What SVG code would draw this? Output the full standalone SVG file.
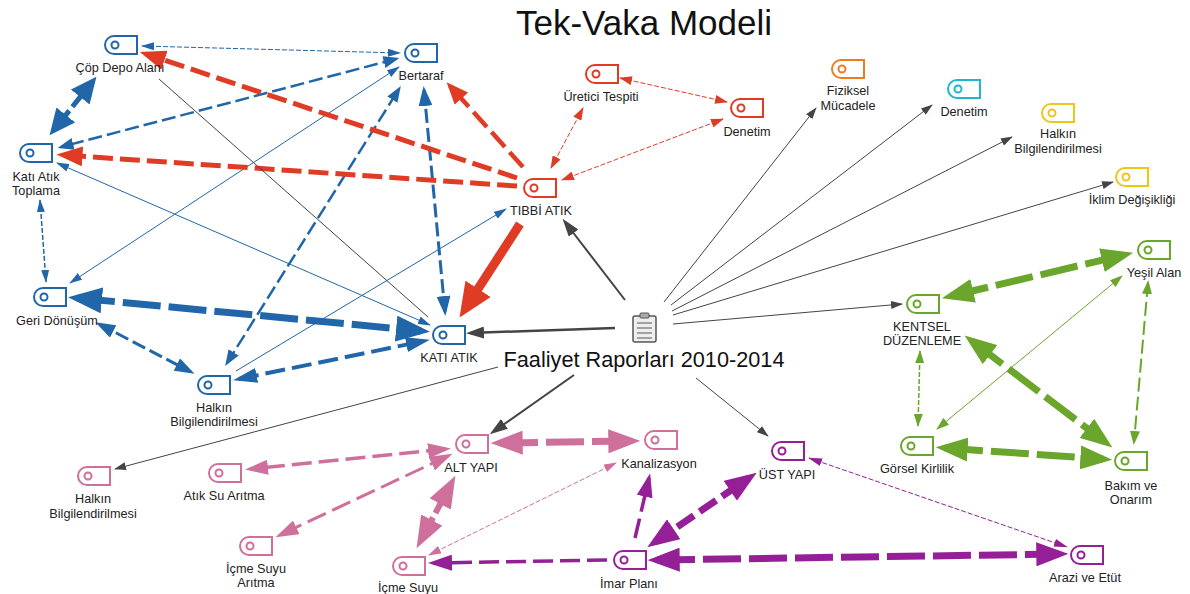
<svg xmlns="http://www.w3.org/2000/svg" width="1190" height="594" viewBox="0 0 1190 594">
<style>
text{font-family:"Liberation Sans",Arial,sans-serif;font-size:12.7px;fill:#222;text-anchor:middle}
.title{font-size:35px;fill:#111}
.sub{font-size:21.7px;fill:#111}
.tag{fill:none;stroke-width:2}
.b{stroke:#2066a8}.r{stroke:#e03c25}.g{stroke:#6aa62b}.p{stroke:#cf6f9c}.v{stroke:#951f96}.d{stroke:#444}.o{stroke:#ee7d22}.c{stroke:#1fb6cf}.y{stroke:#f0c419}
#connectors line{fill:none}
.t{stroke-width:1}.t2{stroke-width:1.5}
.s1{stroke-dasharray:5 2}.s2{stroke-dasharray:14 5}.s3{stroke-dasharray:20 7}.s4{stroke-dasharray:38 8}
.bm{fill:#2066a8}.rm{fill:#e03c25}.gm{fill:#6aa62b}.pm{fill:#cf6f9c}.vm{fill:#951f96}.dm{fill:#444}
</style>
<defs>
<path id="tag" d="M9 0H32V18H9A9 9 0 0 1 9 0Z"/>
<marker id="bS" class="bm" markerUnits="userSpaceOnUse" markerWidth="13" markerHeight="8" refX="12" refY="4" orient="auto-start-reverse"><path d="M0 0L13 4L0 8Z"/></marker>
<marker id="rS" class="rm" markerUnits="userSpaceOnUse" markerWidth="13" markerHeight="9" refX="12" refY="4.5" orient="auto-start-reverse"><path d="M0 0L13 4.5L0 9Z"/></marker>
<marker id="gS" class="gm" markerUnits="userSpaceOnUse" markerWidth="13" markerHeight="9" refX="12" refY="4.5" orient="auto-start-reverse"><path d="M0 0L13 4.5L0 9Z"/></marker>
<marker id="pS" class="pm" markerUnits="userSpaceOnUse" markerWidth="13" markerHeight="8" refX="12" refY="4" orient="auto-start-reverse"><path d="M0 0L13 4L0 8Z"/></marker>
<marker id="vS" class="vm" markerUnits="userSpaceOnUse" markerWidth="14" markerHeight="8" refX="13" refY="4" orient="auto-start-reverse"><path d="M0 0L14 4L0 8Z"/></marker>
<marker id="dS" class="dm" markerUnits="userSpaceOnUse" markerWidth="12" markerHeight="8" refX="11" refY="4" orient="auto-start-reverse"><path d="M0 0L12 4L0 8Z"/></marker>
<marker id="bM" class="bm" markerUnits="userSpaceOnUse" markerWidth="16" markerHeight="12" refX="12.5" refY="6" orient="auto-start-reverse"><path d="M0 0L16 6L0 12Z"/></marker>
<marker id="gM" class="gm" markerUnits="userSpaceOnUse" markerWidth="14" markerHeight="10" refX="11" refY="5" orient="auto-start-reverse"><path d="M0 0L14 5L0 10Z"/></marker>
<marker id="dM" class="dm" markerUnits="userSpaceOnUse" markerWidth="18" markerHeight="12" refX="14" refY="6" orient="auto-start-reverse"><path d="M0 0L18 6L0 12Z"/></marker>
<marker id="bL" class="bm" markerUnits="userSpaceOnUse" markerWidth="20" markerHeight="14" refX="16" refY="7" orient="auto-start-reverse"><path d="M0 0L20 7L0 14Z"/></marker>
<marker id="bK" class="bm" markerUnits="userSpaceOnUse" markerWidth="24" markerHeight="15" refX="18" refY="7.5" orient="auto-start-reverse"><path d="M0 0L24 7.5L0 15Z"/></marker>
<marker id="rL" class="rm" markerUnits="userSpaceOnUse" markerWidth="22" markerHeight="18" refX="17" refY="9" orient="auto-start-reverse"><path d="M0 0L22 9L0 18Z"/></marker>
<marker id="pL" class="pm" markerUnits="userSpaceOnUse" markerWidth="23" markerHeight="15" refX="18" refY="7.5" orient="auto-start-reverse"><path d="M0 0L23 7.5L0 15Z"/></marker>
<marker id="vL" class="vm" markerUnits="userSpaceOnUse" markerWidth="24" markerHeight="16" refX="19" refY="8" orient="auto-start-reverse"><path d="M0 0L24 8L0 16Z"/></marker>
<marker id="bX" class="bm" markerUnits="userSpaceOnUse" markerWidth="26" markerHeight="24" refX="20.5" refY="12" orient="auto-start-reverse"><path d="M0 0L26 12L0 24Z"/></marker>
<marker id="rX" class="rm" markerUnits="userSpaceOnUse" markerWidth="26" markerHeight="20" refX="19.5" refY="10" orient="auto-start-reverse"><path d="M0 0L26 10L0 20Z"/></marker>
<marker id="gX" class="gm" markerUnits="userSpaceOnUse" markerWidth="32" markerHeight="24" refX="22.7" refY="12" orient="auto-start-reverse"><path d="M0 0L32 12L0 24Z"/></marker>
<marker id="pX" class="pm" markerUnits="userSpaceOnUse" markerWidth="32" markerHeight="24" refX="22.7" refY="12" orient="auto-start-reverse"><path d="M0 0L32 12L0 24Z"/></marker>
<marker id="vX" class="vm" markerUnits="userSpaceOnUse" markerWidth="32" markerHeight="24" refX="22.7" refY="12" orient="auto-start-reverse"><path d="M0 0L32 12L0 24Z"/></marker>
<marker id="bZ" class="bm" markerUnits="userSpaceOnUse" markerWidth="34" markerHeight="26" refX="25" refY="13" orient="auto-start-reverse"><path d="M0 0L34 13L0 26Z"/></marker>
<marker id="rZ" class="rm" markerUnits="userSpaceOnUse" markerWidth="34" markerHeight="30" refX="24" refY="15" orient="auto-start-reverse"><path d="M0 0L34 15L0 30Z"/></marker>
</defs>
<text class="title" x="644" y="35">Tek-Vaka Modeli</text>
<g id="connectors">
<line class="b t s1" x1="142" y1="46" x2="400" y2="53" marker-start="url(#bS)" marker-end="url(#bS)"/>
<line class="b s2" stroke-width="5" x1="93" y1="81" x2="53" y2="131" marker-start="url(#bX)" marker-end="url(#bX)"/>
<line class="b s2" stroke-width="2.5" x1="396" y1="59" x2="61" y2="147" marker-start="url(#bM)" marker-end="url(#bM)"/>
<line class="b t" x1="399" y1="67" x2="70" y2="283" marker-start="url(#bS)" marker-end="url(#bS)"/>
<line class="b s2" stroke-width="2.5" x1="227" y1="363" x2="399" y2="89" marker-start="url(#bM)" marker-end="url(#bM)"/>
<line class="b t" x1="430" y1="325" x2="57" y2="163" marker-start="url(#bS)" marker-end="url(#bS)"/>
<line class="b s2" stroke-width="3" x1="424" y1="90" x2="445" y2="312" marker-start="url(#bL)" marker-end="url(#bL)"/>
<line class="b t2 s1" x1="40" y1="200" x2="46" y2="282" marker-start="url(#bS)" marker-end="url(#bS)"/>
<line class="b s4" stroke-width="7" x1="77" y1="298" x2="421" y2="331" marker-start="url(#bZ)" marker-end="url(#bZ)"/>
<line class="b s2" stroke-width="3" x1="99" y1="324" x2="191" y2="372" marker-start="url(#bL)" marker-end="url(#bL)"/>
<line class="b s3" stroke-width="4" x1="239" y1="379" x2="424" y2="341" marker-start="url(#bK)" marker-end="url(#bK)"/>
<line class="b t" x1="236" y1="371" x2="506" y2="209" marker-end="url(#bS)"/>
<line class="r s3" stroke-width="5" x1="517" y1="178" x2="146" y2="54" marker-end="url(#rX)"/>
<line class="r s3" stroke-width="5" x1="517" y1="186" x2="63" y2="155" marker-end="url(#rX)"/>
<line class="r s3" stroke-width="4.5" x1="523" y1="167" x2="450" y2="86" marker-end="url(#rL)"/>
<line class="r" stroke-width="9" stroke-dasharray="90 6" x1="520" y1="224" x2="465" y2="309" marker-end="url(#rZ)"/>
<line class="r t s1" x1="551" y1="168" x2="583" y2="108" marker-start="url(#rS)" marker-end="url(#rS)"/>
<line class="r t s1" x1="620" y1="78" x2="727" y2="102" marker-start="url(#rS)" marker-end="url(#rS)"/>
<line class="r t s1" x1="723" y1="119" x2="562" y2="180" marker-start="url(#rS)" marker-end="url(#rS)"/>
<line class="d" stroke-width="2" x1="625" y1="300" x2="565" y2="222" marker-end="url(#dM)"/>
<line class="d" stroke-width="2.5" x1="615" y1="328" x2="470" y2="333" marker-end="url(#dM)"/>
<line class="d t" x1="159" y1="79" x2="428" y2="317"/>
<line class="d t" x1="664" y1="302" x2="816" y2="108" marker-end="url(#dS)"/>
<line class="d t" x1="671" y1="305" x2="932" y2="105" marker-end="url(#dS)"/>
<line class="d t" x1="672" y1="311" x2="1012" y2="137" marker-end="url(#dS)"/>
<line class="d t" x1="673" y1="315" x2="1113" y2="182" marker-end="url(#dS)"/>
<line class="d t" x1="673" y1="324" x2="902" y2="304" marker-end="url(#dS)"/>
<line class="d t" x1="498" y1="367" x2="115" y2="469" marker-end="url(#dS)"/>
<line class="d" stroke-width="2" x1="574" y1="375" x2="493" y2="432" marker-end="url(#dM)"/>
<line class="d t" x1="696" y1="378" x2="768" y2="436" marker-end="url(#dS)"/>
<line class="g s4" stroke-width="7" x1="951" y1="296" x2="1124" y2="255" marker-start="url(#gX)" marker-end="url(#gX)"/>
<line class="g s4" stroke-width="7" x1="972" y1="341" x2="1105" y2="442" marker-start="url(#gX)" marker-end="url(#gX)"/>
<line class="g t2 s1" x1="920" y1="351" x2="918" y2="426" marker-start="url(#gS)" marker-end="url(#gS)"/>
<line class="g t" x1="1122" y1="276" x2="937" y2="429" marker-start="url(#gS)" marker-end="url(#gS)"/>
<line class="g s2" stroke-width="2" x1="1148" y1="283" x2="1134" y2="442" marker-start="url(#gM)" marker-end="url(#gM)"/>
<line class="g s4" stroke-width="7" x1="945" y1="448" x2="1103" y2="459" marker-start="url(#gX)" marker-end="url(#gX)"/>
<line class="p s4" stroke-width="7" x1="500" y1="443" x2="631" y2="441" marker-start="url(#pX)" marker-end="url(#pX)"/>
<line class="p s3" stroke-width="3.5" x1="446" y1="449" x2="250" y2="469" marker-start="url(#pL)" marker-end="url(#pL)"/>
<line class="p s3" stroke-width="3" x1="448" y1="456" x2="280" y2="535" marker-start="url(#pL)" marker-end="url(#pL)"/>
<line class="p s2" stroke-width="6" x1="451" y1="484" x2="421" y2="540" marker-start="url(#pX)" marker-end="url(#pX)"/>
<line class="p t s1" x1="429" y1="555" x2="616" y2="463" marker-start="url(#pS)" marker-end="url(#pS)"/>
<line class="v s3" stroke-width="3.5" x1="635" y1="538" x2="649" y2="478" marker-end="url(#vL)"/>
<line class="v s3" stroke-width="3.5" x1="607" y1="560" x2="433" y2="563" marker-end="url(#vL)"/>
<line class="v s3" stroke-width="7" x1="655" y1="542" x2="749" y2="478" marker-start="url(#vX)" marker-end="url(#vX)"/>
<line class="v s4" stroke-width="7" x1="657" y1="560" x2="1059" y2="554" marker-start="url(#vX)" marker-end="url(#vX)"/>
<line class="v t s1" x1="809" y1="458" x2="1067" y2="547" marker-start="url(#vS)" marker-end="url(#vS)"/>
</g>
<g id="n-copdepo"><use href="#tag" class="tag b" x="105" y="36"/><circle class="tag b" cx="115" cy="45" r="3.5"/><text x="120" y="72">Çöp Depo Alanı</text></g>
<g id="n-bertaraf"><use href="#tag" class="tag b" x="405" y="44"/><circle class="tag b" cx="415" cy="53" r="3.5"/><text x="421" y="80">Bertaraf</text></g>
<g id="n-toplama"><use href="#tag" class="tag b" x="20" y="144"/><circle class="tag b" cx="30" cy="153" r="3.5"/><text x="36" y="181">Katı Atık</text><text x="36" y="195">Toplama</text></g>
<g id="n-geri"><use href="#tag" class="tag b" x="34" y="288"/><circle class="tag b" cx="44" cy="297" r="3.5"/><text x="57" y="325">Geri Dönüşüm</text></g>
<g id="n-halkin1"><use href="#tag" class="tag b" x="198" y="376"/><circle class="tag b" cx="208" cy="385" r="3.5"/><text x="214" y="412">Halkın</text><text x="214" y="426">Bilgilendirilmesi</text></g>
<g id="n-kati"><use href="#tag" class="tag b" x="433" y="326"/><circle class="tag b" cx="443" cy="335" r="3.5"/><text x="449" y="362">KATI ATIK</text></g>
<g id="n-tibbi"><use href="#tag" class="tag r" x="524" y="179"/><circle class="tag r" cx="534" cy="188" r="3.5"/><text x="541" y="215">TIBBİ ATIK</text></g>
<g id="n-uretici"><use href="#tag" class="tag r" x="586" y="65"/><circle class="tag r" cx="596" cy="74" r="3.5"/><text x="601" y="101">Üretici Tespiti</text></g>
<g id="n-denetim1"><use href="#tag" class="tag r" x="731" y="99"/><circle class="tag r" cx="741" cy="108" r="3.5"/><text x="747" y="136">Denetim</text></g>
<g id="n-fiziksel"><use href="#tag" class="tag o" x="832" y="60"/><circle class="tag o" cx="842" cy="69" r="3.5"/><text x="848" y="95">Fiziksel</text><text x="848" y="110">Mücadele</text></g>
<g id="n-denetim2"><use href="#tag" class="tag c" x="948" y="80"/><circle class="tag c" cx="958" cy="89" r="3.5"/><text x="964" y="116">Denetim</text></g>
<g id="n-halkin2"><use href="#tag" class="tag y" x="1042" y="104"/><circle class="tag y" cx="1052" cy="113" r="3.5"/><text x="1058" y="138">Halkın</text><text x="1058" y="153">Bilgilendirilmesi</text></g>
<g id="n-iklim"><use href="#tag" class="tag y" x="1116" y="168"/><circle class="tag y" cx="1126" cy="177" r="3.5"/><text x="1132" y="204">İklim Değişikliği</text></g>
<g id="n-yesil"><use href="#tag" class="tag g" x="1138" y="241"/><circle class="tag g" cx="1148" cy="250" r="3.5"/><text x="1154" y="277">Yeşil Alan</text></g>
<g id="n-kentsel"><use href="#tag" class="tag g" x="907" y="295"/><circle class="tag g" cx="917" cy="304" r="3.5"/><text x="922" y="331">KENTSEL</text><text x="922" y="345">DÜZENLEME</text></g>
<g id="n-gorsel"><use href="#tag" class="tag g" x="901" y="437"/><circle class="tag g" cx="911" cy="446" r="3.5"/><text x="917" y="473">Görsel Kirlilik</text></g>
<g id="n-bakim"><use href="#tag" class="tag g" x="1115" y="452"/><circle class="tag g" cx="1125" cy="461" r="3.5"/><text x="1131" y="490">Bakım ve</text><text x="1131" y="504">Onarım</text></g>
<g id="n-alt"><use href="#tag" class="tag p" x="456" y="435"/><circle class="tag p" cx="466" cy="444" r="3.5"/><text x="471" y="472">ALT YAPI</text></g>
<g id="n-kanal"><use href="#tag" class="tag p" x="645" y="431"/><circle class="tag p" cx="655" cy="440" r="3.5"/><text x="659" y="468">Kanalizasyon</text></g>
<g id="n-atiksu"><use href="#tag" class="tag p" x="209" y="464"/><circle class="tag p" cx="219" cy="473" r="3.5"/><text x="224" y="500">Atık Su Arıtma</text></g>
<g id="n-icmearitma"><use href="#tag" class="tag p" x="240" y="537"/><circle class="tag p" cx="250" cy="546" r="3.5"/><text x="256" y="573">İçme Suyu</text><text x="256" y="587">Arıtma</text></g>
<g id="n-icme"><use href="#tag" class="tag p" x="393" y="557"/><circle class="tag p" cx="403" cy="566" r="3.5"/><text x="408" y="592">İçme Suyu</text></g>
<g id="n-halkin3"><use href="#tag" class="tag p" x="78" y="467"/><circle class="tag p" cx="88" cy="476" r="3.5"/><text x="93" y="503">Halkın</text><text x="93" y="518">Bilgilendirilmesi</text></g>
<g id="n-imar"><use href="#tag" class="tag v" x="614" y="551"/><circle class="tag v" cx="624" cy="560" r="3.5"/><text x="629" y="588">İmar Planı</text></g>
<g id="n-ust"><use href="#tag" class="tag v" x="772" y="442"/><circle class="tag v" cx="782" cy="451" r="3.5"/><text x="787" y="479">ÜST YAPI</text></g>
<g id="n-arazi"><use href="#tag" class="tag v" x="1071" y="546"/><circle class="tag v" cx="1081" cy="555" r="3.5"/><text x="1085" y="582">Arazi ve Etüt</text></g>
<g id="n-faaliyet"><rect x="633" y="316" width="23" height="26" rx="2" fill="#eee" stroke="#555" stroke-width="1.5"/><rect x="640" y="313" width="9" height="5" rx="1" fill="#aaa" stroke="#555"/><path d="M637 323H652M637 328H652M637 333H652M637 338H652" stroke="#555" stroke-width="1.2" fill="none"/><text class="sub" x="644" y="367">Faaliyet Raporları 2010-2014</text></g>
</svg>
